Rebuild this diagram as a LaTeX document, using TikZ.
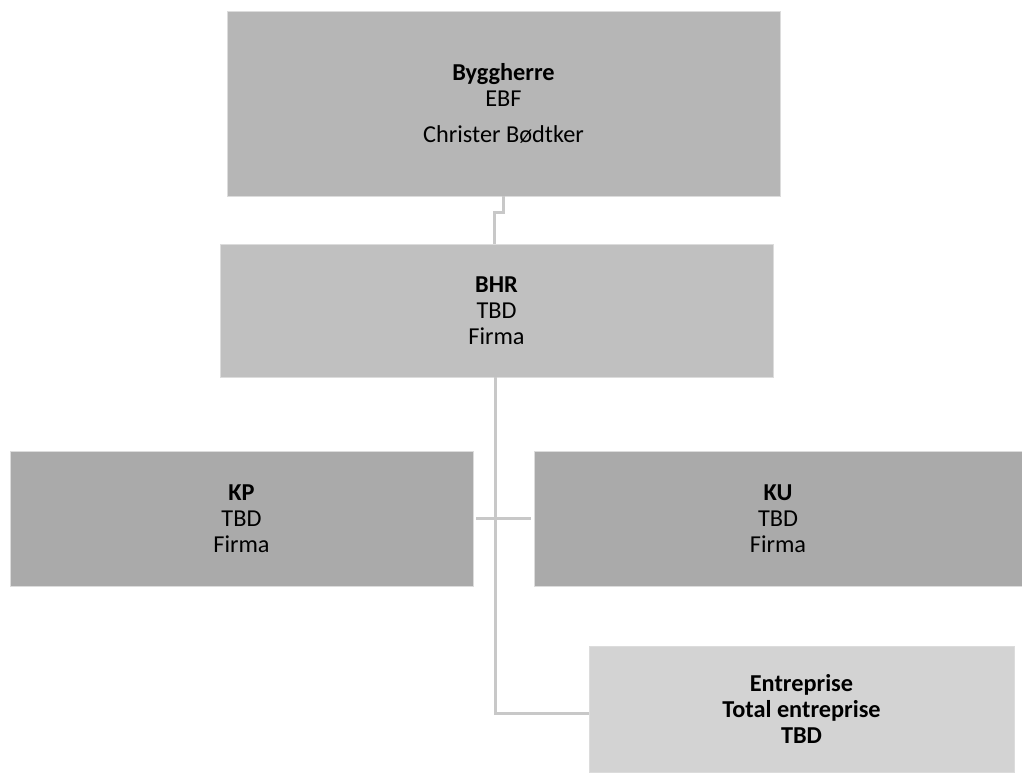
\documentclass[tikz,border=0pt]{standalone}
\usepackage{fontspec}
\setmainfont{Carlito}
\definecolor{cTop}{HTML}{B6B6B6}
\definecolor{cBhr}{HTML}{C0C0C0}
\definecolor{cMid}{HTML}{AAAAAA}
\definecolor{cLow}{HTML}{D3D3D3}
\definecolor{cLine}{HTML}{C8C8C8}
\definecolor{cEdge}{HTML}{DCDCDC}
\tikzset{
  orgbox/.style={draw=cEdge, line width=0.8pt, inner sep=0pt, align=center,
    font=\fontsize{24.3}{25.8}\selectfont, text=black},
  link/.style={draw=cLine, line width=3pt}
}
\begin{document}
\begin{tikzpicture}[x=1pt,y=1pt]
\useasboundingbox (0,0) rectangle (1022,772);
\coordinate (j1) at (503,559);
\node[orgbox, fill=cTop, minimum width=553pt, minimum height=185pt] (byg) at (503.5,668.5)
  {\textbf{Byggherre}\\EBF\\[11pt]Christer Bødtker};
\node[orgbox, fill=cBhr, minimum width=553pt, minimum height=133pt] (bhr) at (496.5,461.5)
  {\textbf{BHR}\\TBD\\Firma};
\node[orgbox, fill=cMid, minimum width=463pt, minimum height=135pt] (kp) at (241.5,253.5)
  {\textbf{KP}\\TBD\\Firma};
\node[orgbox, fill=cMid, minimum width=488pt, minimum height=135pt] (ku) at (778,253.5)
  {\textbf{KU}\\TBD\\Firma};
\node[orgbox, fill=cLow, minimum width=425pt, minimum height=126pt] (ent) at (801.5,63)
  {\textbf{Entreprise}\\\textbf{Total entreprise}\\\textbf{TBD}};
\draw[link] (byg.south -| j1) -- (j1) -| ([xshift=-2pt]bhr.north);
\draw[link] ([xshift=-1pt]bhr.south) |- ([yshift=-4pt]ent.west);
\draw[link] ([xshift=3pt]kp.east) -- ([xshift=-3pt]ku.west);
\end{tikzpicture}
\end{document}
